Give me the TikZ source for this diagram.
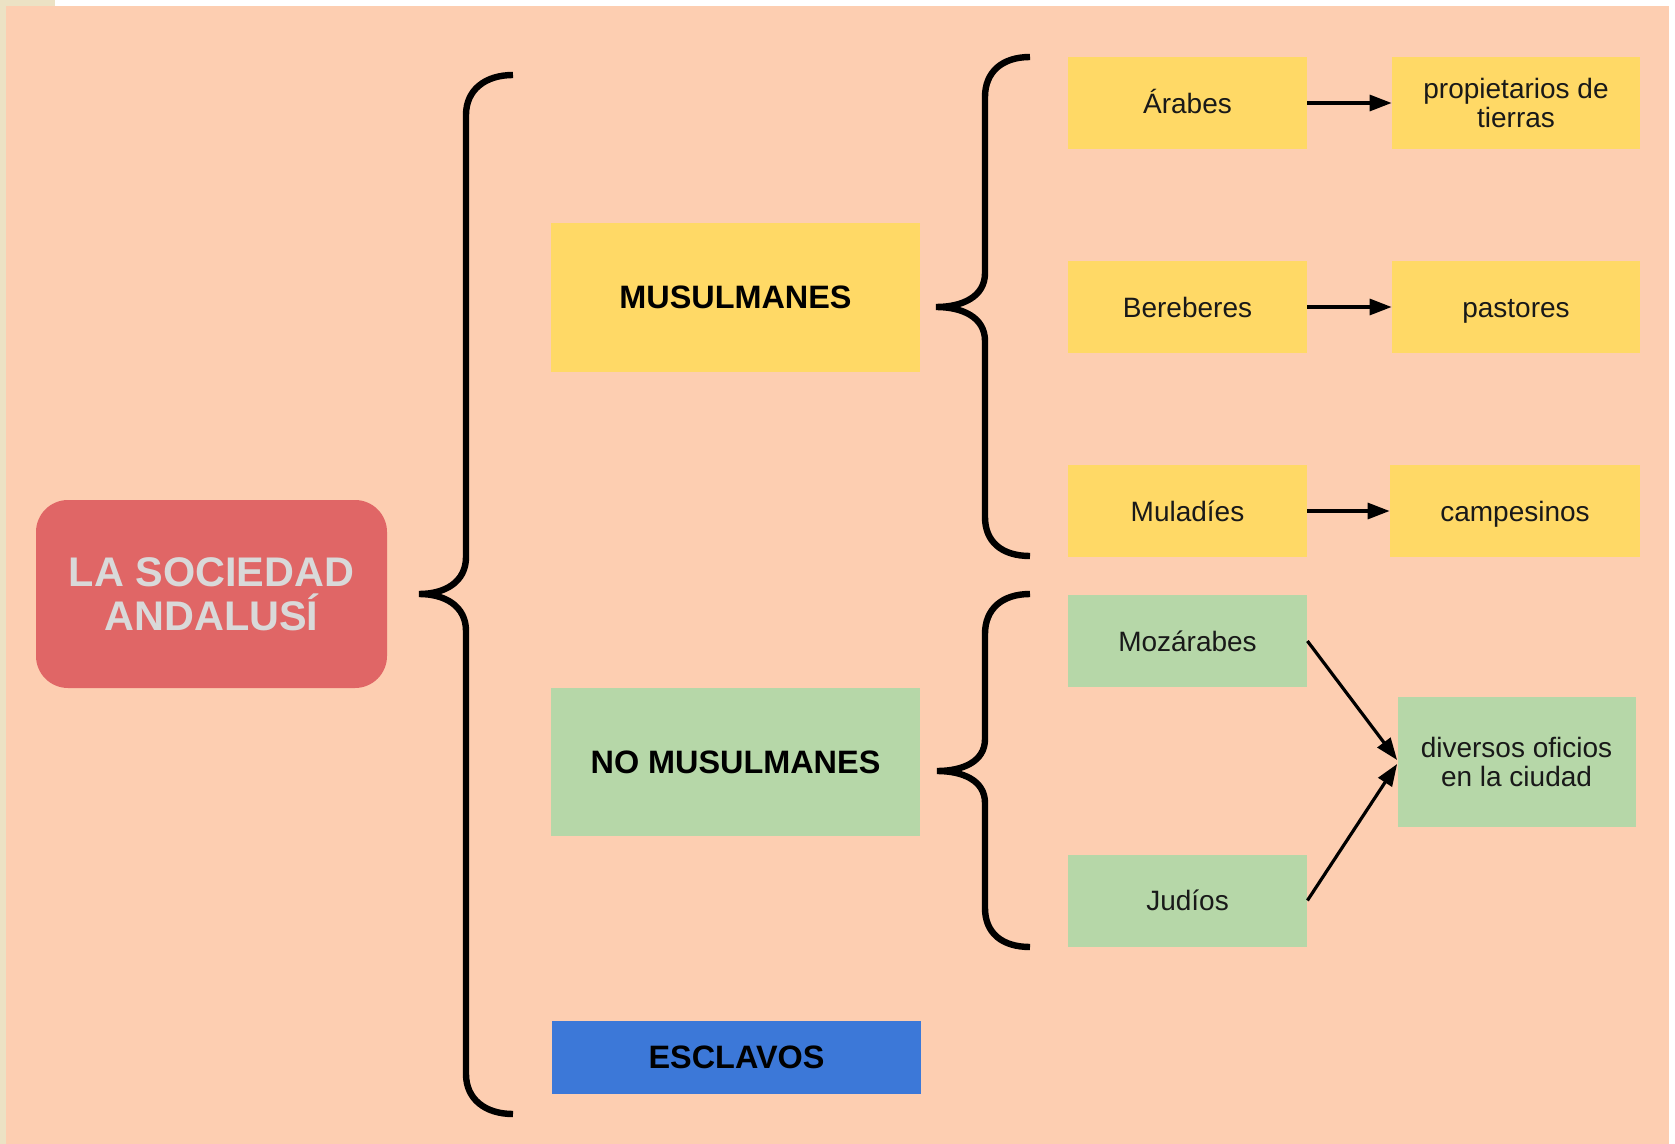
\documentclass[tikz,border=0pt]{standalone}
\usepackage{fontspec}
\setmainfont{Liberation Sans}
\usetikzlibrary{arrows.meta}
\definecolor{peach}{RGB}{253,206,177}
\definecolor{myyellow}{RGB}{255,217,102}
\definecolor{mygreen}{RGB}{182,215,168}
\definecolor{myblue}{RGB}{60,120,216}
\definecolor{myred}{RGB}{224,102,102}
\definecolor{titlegray}{RGB}{217,217,217}
\definecolor{beigestrip}{RGB}{236,226,196}
\definecolor{txt}{RGB}{25,25,25}
\begin{document}
\begin{tikzpicture}[x=0.5pt,y=-0.5pt,
  titlebox/.style={rectangle, rounded corners=16pt, fill=myred, inner sep=0pt,
    minimum width=175.5pt, minimum height=94pt, align=center, text=titlegray,
    font=\bfseries\fontsize{20.7pt}{22pt}\selectfont},
  catbox/.style={rectangle, inner sep=0pt, minimum width=184.5pt, align=center,
    text=black, font=\bfseries\fontsize{16.2pt}{17pt}\selectfont},
  itembox/.style={rectangle, inner sep=0pt, minimum width=119.5pt, minimum height=46pt,
    align=center, text=txt, font=\fontsize{14pt}{14.5pt}\selectfont},
  oneline/.style={text height=10.2pt, text depth=0pt},
  resbox/.style={itembox, minimum width=124pt},
  brace/.style={draw=black, line width=3.2pt},
  arr/.style={draw=black, line width=1.6pt, -{Triangle[length=11pt,width=8pt]}}]
\useasboundingbox (0,0) rectangle (1675,1144);
% background
\fill[white] (0,0) rectangle (1675,1144);
\fill[beigestrip] (0,0) rectangle (6,1144);
\fill[beigestrip] (0,0) rectangle (55,6);
\fill[peach] (6,6) rectangle (1669,1144);
% title
\node[titlebox] (soc) at (211.5,594) {LA SOCIEDAD\\ANDALUSÍ};
% categories
\node[catbox, fill=myyellow, minimum height=74.5pt] (mus) at (735.5,297.5) {MUSULMANES};
\node[catbox, fill=mygreen, minimum height=74pt] (nomus) at (735.5,762) {NO MUSULMANES};
\node[catbox, fill=myblue, minimum height=36.5pt] (escl) at (736.5,1057.5) {ESCLAVOS};
% items
\node[itembox, oneline, fill=myyellow] (arabes) at (1187.5,103) {Árabes};
\node[resbox, fill=myyellow] (prop) at (1516,103) {propietarios de\\tierras};
\node[itembox, oneline, fill=myyellow] (ber) at (1187.5,307) {Bereberes};
\node[resbox, oneline, fill=myyellow] (past) at (1516,307) {pastores};
\node[itembox, oneline, fill=myyellow] (mul) at (1187.5,511) {Muladíes};
\node[resbox, oneline, fill=myyellow, minimum width=125pt] (camp) at (1515,511) {campesinos};
\node[itembox, oneline, fill=mygreen] (moz) at (1187.5,641) {Mozárabes};
\node[itembox, oneline, fill=mygreen] (jud) at (1187.5,900.5) {Judíos};
\node[itembox, fill=mygreen, minimum width=119pt, minimum height=65pt] (div) at (1516.5,762) {diversos oficios\\en la ciudad};
% braces
\draw[brace] (513,75) .. controls (485,75) and (466,90) .. (466,115) -- (466,557)
  .. controls (466,582) and (445,594) .. (419,594)
  .. controls (445,594) and (466,606) .. (466,631) -- (466,1074)
  .. controls (466,1099) and (485,1114) .. (513,1114);
\draw[brace] (1030,57) .. controls (1002,57) and (985,72) .. (985,97) -- (985,273)
  .. controls (985,297) and (962,307) .. (936,307)
  .. controls (962,307) and (985,317) .. (985,341) -- (985,517)
  .. controls (985,542) and (1002,556) .. (1030,556);
\draw[brace] (1030,594) .. controls (1002,594) and (985,609) .. (985,634) -- (985,739)
  .. controls (985,762) and (962,771) .. (937,771)
  .. controls (962,771) and (985,780) .. (985,803) -- (985,908)
  .. controls (985,933) and (1002,947) .. (1030,947);
% arrows
\draw[arr] (arabes.east) -- (prop.west);
\draw[arr] (ber.east) -- (past.west);
\draw[arr] (mul.east) -- (camp.west);
\draw[arr] (moz.east) -- ([yshift=1pt]div.west);
\draw[arr] (jud.east) -- ([yshift=-1pt]div.west);
\end{tikzpicture}
\end{document}
